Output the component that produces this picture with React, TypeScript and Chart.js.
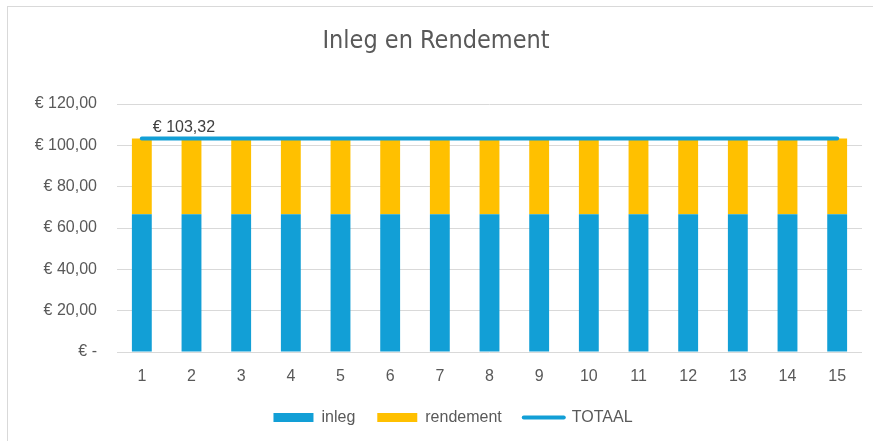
import React, { useEffect, useRef } from "react";
import { Chart, registerables } from "chart.js";

Chart.register(...registerables);

const categories = ["1", "2", "3", "4", "5", "6", "7", "8", "9", "10", "11", "12", "13", "14", "15"];
const inleg = [66.67, 66.67, 66.67, 66.67, 66.67, 66.67, 66.67, 66.67, 66.67, 66.67, 66.67, 66.67, 66.67, 66.67, 66.67];
const rendement = [36.65, 36.65, 36.65, 36.65, 36.65, 36.65, 36.65, 36.65, 36.65, 36.65, 36.65, 36.65, 36.65, 36.65, 36.65];
const totaal = [103.32, 103.32, 103.32, 103.32, 103.32, 103.32, 103.32, 103.32, 103.32, 103.32, 103.32, 103.32, 103.32, 103.32, 103.32];
const totaalLabel = "€ 103,32";
const title = "Inleg en Rendement";

const BLUE = "#129fd6";
const YELLOW = "#ffc000";
const TEXT = "#595959";
const GRID = "#d9d9d9";
const FONT = "'Liberation Sans', Arial, sans-serif";

const fmt = (v: number) => (v === 0 ? "€ -" : "€ " + v.toFixed(2).replace(".", ","));

const labelPlugin = {
  id: "totaalLabel",
  afterLayout(chart: any) {
    if (chart.legend) {
      chart.legend.left += 17;
      chart.legend.right += 17;
    }
  },
  afterDatasetsDraw(chart: any) {
    const meta = chart.getDatasetMeta(2);
    const pt = meta.data[0];
    if (!pt) return;
    const ctx = chart.ctx;
    ctx.save();
    ctx.font = `16px ${FONT}`;
    ctx.fillStyle = "#404040";
    ctx.textAlign = "left";
    ctx.textBaseline = "middle";
    ctx.fillText(totaalLabel, pt.x + 11, pt.y - 11);
    ctx.restore();
  },
};

export default function App() {
  const ref = useRef<HTMLCanvasElement>(null);
  useEffect(() => {
    if (!ref.current) return;
    const chart = new Chart(ref.current, {
      type: "bar",
      data: {
        labels: categories,
        datasets: [
          { label: "inleg", data: inleg, backgroundColor: BLUE, stack: "a", order: 1 },
          { label: "rendement", data: rendement, backgroundColor: YELLOW, stack: "a", order: 1 },
          {
            type: "line",
            label: "TOTAAL",
            data: totaal,
            borderColor: BLUE,
            backgroundColor: BLUE,
            borderWidth: 4,
            borderCapStyle: "round",
            pointRadius: 0,
            stack: "t",
            order: 0,
          } as any,
        ],
      },
      options: {
        animation: false,
        responsive: false,
        devicePixelRatio: 1,
        layout: { padding: { left: 10, right: 11, top: 0, bottom: 5.5 } },
        datasets: { bar: { barPercentage: 0.4, categoryPercentage: 1 } },
        scales: {
          x: {
            stacked: true,
            grid: { display: false, drawTicks: false },
            border: { display: false },
            ticks: { color: TEXT, font: { family: FONT, size: 16 }, padding: 15 },
            afterFit: (s: any) => { s.height = 35.5; },
          },
          y: {
            stacked: true,
            min: 0,
            max: 120,
            grid: { color: GRID, lineWidth: 1, drawTicks: false },
            border: { display: false },
            ticks: {
              stepSize: 20,
              color: TEXT,
              font: { family: FONT, size: 16 },
              padding: 20,
              callback: (v: any) => fmt(Number(v)),
            },
            afterFit: (s: any) => { s.width = 107; },
          },
        },
        plugins: {
          title: {
            display: true,
            text: title,
            color: TEXT,
            font: { family: "'Liberation Sans Narrow', 'DejaVu Sans Condensed', sans-serif", size: 25, weight: "normal" },
            padding: { top: 26, bottom: 48 },
          },
          legend: {
            position: "bottom",
            labels: {
              color: TEXT,
              font: { family: FONT, size: 16 },
              usePointStyle: true,
              pointStyleWidth: 40,
              boxHeight: 9,
              padding: 22,
              sort: (a: any, b: any) => a.datasetIndex - b.datasetIndex,
              generateLabels: (c: any) =>
                c.data.datasets.map((d: any, i: number) => ({
                  text: d.label,
                  datasetIndex: i,
                  fillStyle: d.type === "line" ? "transparent" : d.backgroundColor,
                  strokeStyle: d.type === "line" ? d.borderColor : d.backgroundColor,
                  lineWidth: d.type === "line" ? 4 : 0,
                  lineCap: "round",
                  pointStyle: d.type === "line" ? "line" : "rect",
                  fontColor: TEXT,
                  hidden: false,
                })),
            },
          },
          tooltip: { enabled: false },
        },
      },
      plugins: [labelPlugin],
    } as any);
    return () => chart.destroy();
  }, []);

  return (
    <div style={{ position: "fixed", left: 0, top: 0, width: 873, height: 441, background: "#fff", overflow: "hidden" }}>
      <canvas ref={ref} width={873} height={441} style={{ position: "absolute", left: 0, top: 0, width: 873, height: 441 }} />
      <div style={{ position: "absolute", left: 7, top: 6, width: 880, height: 450, border: "1px solid #d9d9d9", boxSizing: "border-box", pointerEvents: "none" }} />
    </div>
  );
}
